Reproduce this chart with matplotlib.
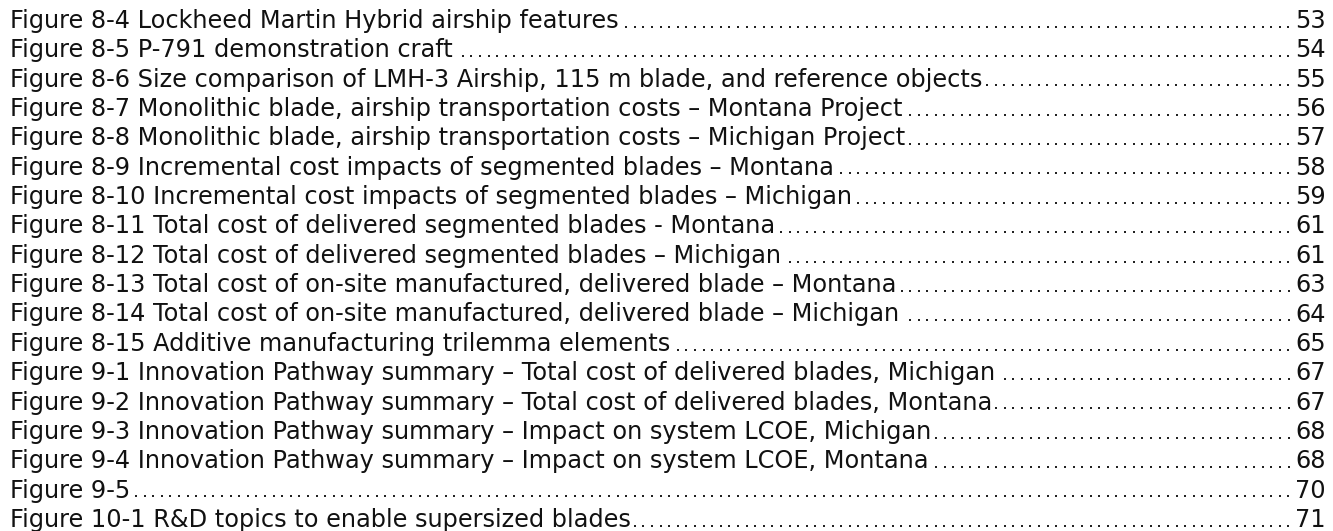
import numpy as np
import matplotlib
matplotlib.use('Agg')
import matplotlib.pyplot as plt

# table of figures entries
labels = [
    'Figure 8-4 Lockheed Martin Hybrid airship features',
    'Figure 8-5 P-791 demonstration craft',
    'Figure 8-6 Size comparison of LMH-3 Airship, 115 m blade, and reference objects',
    'Figure 8-7 Monolithic blade, airship transportation costs \u2013 Montana Project',
    'Figure 8-8 Monolithic blade, airship transportation costs \u2013 Michigan Project',
    'Figure 8-9 Incremental cost impacts of segmented blades \u2013 Montana',
    'Figure 8-10 Incremental cost impacts of segmented blades \u2013 Michigan',
    'Figure 8-11 Total cost of delivered segmented blades - Montana',
    'Figure 8-12 Total cost of delivered segmented blades \u2013 Michigan',
    'Figure 8-13 Total cost of on-site manufactured, delivered blade \u2013 Montana',
    'Figure 8-14 Total cost of on-site manufactured, delivered blade \u2013 Michigan',
    'Figure 8-15 Additive manufacturing trilemma elements',
    'Figure 9-1 Innovation Pathway summary \u2013 Total cost of delivered blades, Michigan',
    'Figure 9-2 Innovation Pathway summary \u2013 Total cost of delivered blades, Montana',
    'Figure 9-3 Innovation Pathway summary \u2013 Impact on system LCOE, Michigan',
    'Figure 9-4 Innovation Pathway summary \u2013 Impact on system LCOE, Montana',
    'Figure 9-5',
    'Figure 10-1 R&D topics to enable supersized blades',
]
pages = ['53', '54', '55', '56', '57', '58', '59', '61', '61', '63',
         '64', '65', '67', '67', '68', '68', '70', '71']

W, H = 1333, 531
fig = plt.figure(figsize=(W / 100, H / 100), dpi=100)
ax = fig.add_axes([0, 0, 1, 1])
ax.set_xlim(0, W)
ax.set_ylim(H, 0)
ax.axis('off')

fs = 17.3
x_left, x_right = 10, 1326
y0, dy = 28, 29.35
dot_step = 8.6

fig.canvas.draw()
r = fig.canvas.get_renderer()

for i, (lab, pg) in enumerate(zip(labels, pages)):
    y = y0 + i * dy
    t1 = ax.text(x_left, y, lab, fontsize=fs, va='baseline', ha='left',
                 family='DejaVu Sans', color='#111111')
    t2 = ax.text(x_right, y, pg, fontsize=fs, va='baseline', ha='right',
                 family='DejaVu Sans', color='#111111')
    b1 = t1.get_window_extent(r)
    b2 = t2.get_window_extent(r)
    xa = b1.x1 + 3
    xb = b2.x0 - 7
    # leader dots, spaced from the page number leftwards
    xs = np.arange(xb, xa, -dot_step)
    ax.plot(xs, np.full_like(xs, y - 1.3), ls='none', marker='s',
            ms=1.7, mew=0, color='#222222')

fig.savefig('out.png', dpi=100, facecolor='white')
